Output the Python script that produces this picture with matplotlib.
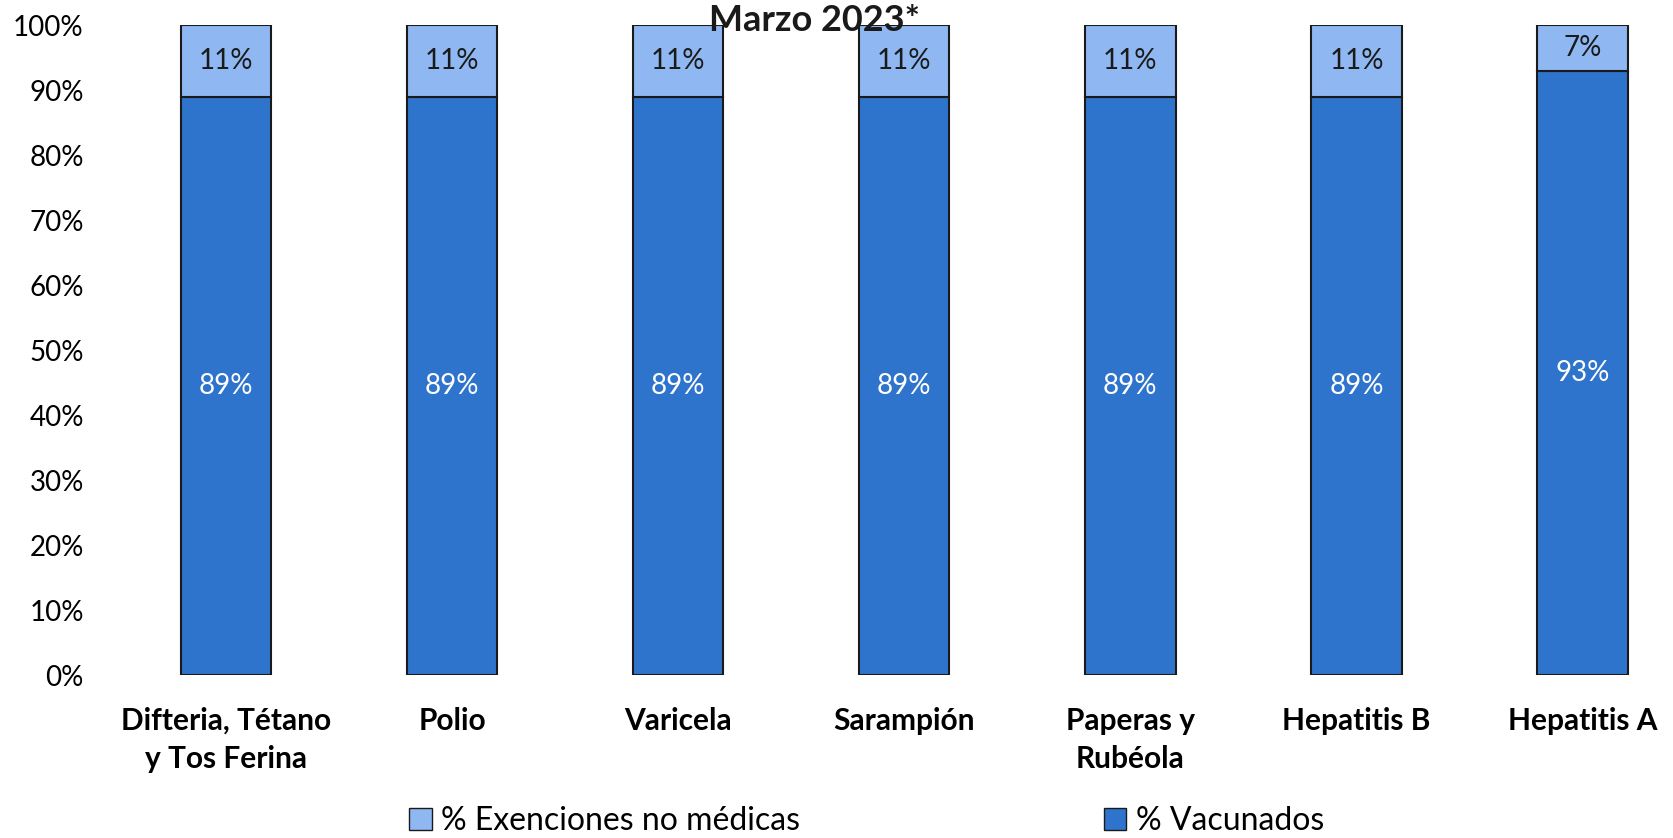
import matplotlib.pyplot as plt
from matplotlib.patches import Patch

# data
vacunas = ["Difteria, Tétano\ny Tos Ferina", "Polio", "Varicela", "Sarampión",
           "Paperas y\nRubéola", "Hepatitis B", "Hepatitis A"]
vacunados = [89, 89, 89, 89, 89, 89, 93]
exenciones = [11, 11, 11, 11, 11, 11, 7]
yticks = [0, 10, 20, 30, 40, 50, 60, 70, 80, 90, 100]

dark = "#2f74cc"
light = "#8fb8f2"


def main():
    plt.rcParams['font.family'] = ['Lato', 'DejaVu Sans']
    fig = plt.figure(figsize=(16.73, 8.38), dpi=100)
    ax = fig.add_axes([0.0675, 0.1945, 0.9325, 0.7755])

    x = list(range(len(vacunas)))
    ax.bar(x, vacunados, width=0.4, color=dark, edgecolor="#1a1a1a", linewidth=1.5)
    ax.bar(x, exenciones, width=0.4, bottom=vacunados, color=light,
           edgecolor="#1a1a1a", linewidth=1.5)

    for i in x:
        ax.text(i, vacunados[i] / 2, f"{vacunados[i]}%", ha="center", va="center",
                color="white", fontsize=20)
        ax.text(i, vacunados[i] + exenciones[i] / 2, f"{exenciones[i]}%",
                ha="center", va="center", color="#1a1a1a", fontsize=20)

    ax.set_xlim(-0.5, 6.4)
    ax.set_ylim(0, 100)
    ax.set_yticks(yticks)
    ax.set_yticklabels([f"{t}%" for t in yticks], fontsize=20)
    ax.set_xticks(x)
    ax.set_xticklabels(vacunas, fontsize=21.5, fontweight="bold", linespacing=1.45)
    ax.tick_params(axis="x", length=0, pad=23)
    ax.tick_params(axis="y", length=0, pad=21)
    for s in ax.spines.values():
        s.set_visible(False)

    fig.text(0.487, 0.976, "Marzo 2023*", ha="center", va="center",
             fontsize=26, fontweight="bold", color="#1a1a1a")

    handles = [Patch(facecolor=light, edgecolor="#1a1a1a", label="% Exenciones no médicas"),
               Patch(facecolor=dark, edgecolor="#1a1a1a", label="% Vacunados")]
    fig.legend(handles=handles, loc="center", bbox_to_anchor=(0.518, 0.02), ncol=2,
               frameon=False, fontsize=23, handlelength=0.7, handleheight=0.7,
               handletextpad=0.3, columnspacing=9.5)

    fig.savefig("out.png", dpi=100)


main()
